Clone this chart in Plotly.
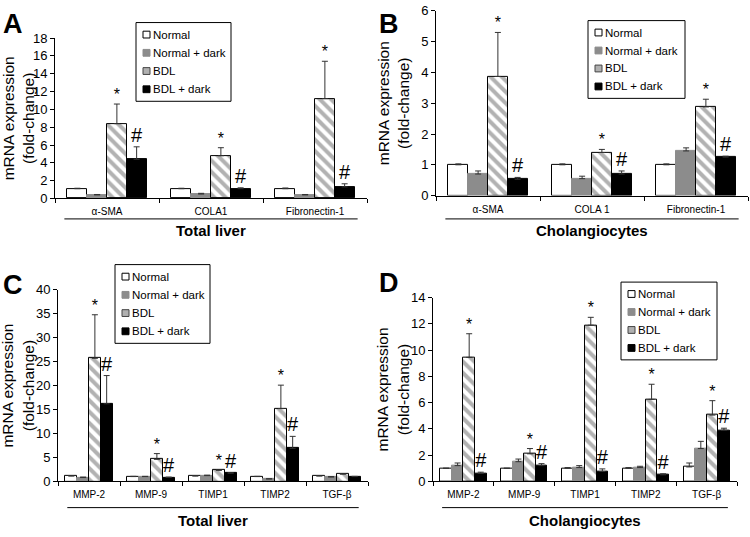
"""Four-panel grouped bar chart: fibrosis / MMP mRNA expression (A-D)."""
import plotly.graph_objects as go

FONT = "Liberation Sans, Arial, sans-serif"
W, H = 750, 537

SERIES = ["Normal", "Normal + dark", "BDL", "BDL + dark"]

# Panel A - total liver, fibrosis markers
A_CATS = ["α-SMA", "COLA1", "Fibronectin-1"]
A_NORMAL = [1.1, 1.1, 1.1]
A_NORMAL_ERR = [0.05, 0.05, 0.08]
A_NDARK = [0.4, 0.5, 0.4]
A_NDARK_ERR = [0.05, 0.08, 0.05]
A_BDL = [8.4, 4.8, 11.2]
A_BDL_ERR = [2.2, 0.9, 4.2]
A_BDARK = [4.4, 1.1, 1.3]
A_BDARK_ERR = [1.4, 0.1, 0.35]

# Panel B - cholangiocytes, fibrosis markers
B_CATS = ["α-SMA", "COLA 1", "Fibronectin-1"]
B_NORMAL = [1.0, 1.0, 1.0]
B_NORMAL_ERR = [0.03, 0.03, 0.03]
B_NDARK = [0.7, 0.55, 1.45]
B_NDARK_ERR = [0.1, 0.08, 0.1]
B_BDL = [3.87, 1.4, 2.88]
B_BDL_ERR = [1.43, 0.1, 0.25]
B_BDARK = [0.53, 0.7, 1.25]
B_BDARK_ERR = [0.06, 0.1, 0.03]

# Panel C - total liver, MMP / TIMP / TGF
C_CATS = ["MMP-2", "MMP-9", "TIMP1", "TIMP2", "TGF-β"]
C_NORMAL = [1.1, 1.0, 1.1, 1.0, 1.1]
C_NORMAL_ERR = [0.1, 0.05, 0.1, 0.05, 0.1]
C_NDARK = [0.8, 1.0, 1.2, 0.5, 0.9]
C_NDARK_ERR = [0.1, 0.05, 0.1, 0.05, 0.1]
C_BDL = [25.7, 4.6, 2.3, 15.2, 1.5]
C_BDL_ERR = [9.1, 1.2, 0.1, 4.9, 0.1]
C_BDARK = [16.2, 0.8, 1.7, 6.9, 1.0]
C_BDARK_ERR = [5.9, 0.1, 0.1, 2.5, 0.05]

# Panel D - cholangiocytes, MMP / TIMP / TGF
D_CATS = ["MMP-2", "MMP-9", "TIMP1", "TIMP2", "TGF-β"]
D_NORMAL = [1.0, 1.0, 1.0, 1.0, 1.1]
D_NORMAL_ERR = [0.0, 0.0, 0.05, 0.05, 0.3]
D_NDARK = [1.2, 1.5, 1.05, 1.05, 2.5]
D_NDARK_ERR = [0.2, 0.2, 0.15, 0.1, 0.55]
D_BDL = [9.45, 2.1, 11.9, 6.25, 5.05]
D_BDL_ERR = [1.8, 0.4, 0.6, 1.15, 1.1]
D_BDARK = [0.6, 1.2, 0.75, 0.5, 3.9]
D_BDARK_ERR = [0.1, 0.15, 0.2, 0.08, 0.15]

# significance markers: * on BDL, # on BDL + dark
A_STAR = [True, True, True]
B_STAR = [True, True, True]
C_STAR = [True, True, True, True, False]
D_STAR = [True, True, True, True, True]

# layout in pixels: plot box (left, right, top, bottom), legend box (left, right, top, bottom)
PANELS = [
    dict(letter="A", cats=A_CATS, vals=[A_NORMAL, A_NDARK, A_BDL, A_BDARK],
         errs=[A_NORMAL_ERR, A_NDARK_ERR, A_BDL_ERR, A_BDARK_ERR], sig=A_STAR,
         group="Total liver", yrange=[0, 18], dtick=2,
         box=(55, 367, 32, 197), legbox=(136, 231, 16, 97),
         letter_px=(1, 0), ytitle_px=18, line_px=218, group_px=230),
    dict(letter="B", cats=B_CATS, vals=[B_NORMAL, B_NDARK, B_BDL, B_BDARK],
         errs=[B_NORMAL_ERR, B_NDARK_ERR, B_BDL_ERR, B_BDARK_ERR], sig=B_STAR,
         group="Cholangiocytes", yrange=[0, 6], dtick=1,
         box=(436, 748, 4, 194), legbox=(588, 685, 14, 94),
         letter_px=(377, 0), ytitle_px=393, line_px=218, group_px=230),
    dict(letter="C", cats=C_CATS, vals=[C_NORMAL, C_NDARK, C_BDL, C_BDARK],
         errs=[C_NORMAL_ERR, C_NDARK_ERR, C_BDL_ERR, C_BDARK_ERR], sig=C_STAR,
         group="Total liver", yrange=[0, 40], dtick=5,
         box=(58, 368, 291, 488), legbox=(115, 210, 265, 346),
         letter_px=(1, 268), ytitle_px=18, line_px=515, group_px=528),
    dict(letter="D", cats=D_CATS, vals=[D_NORMAL, D_NDARK, D_BDL, D_BDARK],
         errs=[D_NORMAL_ERR, D_NDARK_ERR, D_BDL_ERR, D_BDARK_ERR], sig=D_STAR,
         group="Cholangiocytes", yrange=[0, 14], dtick=2,
         box=(433, 737, 299, 488), legbox=(621, 717, 283, 363),
         letter_px=(377, 266), ytitle_px=393, line_px=515, group_px=528),
]

OFFSETS = [-0.285, -0.095, 0.095, 0.285]
BAR_W = 0.19

HATCH = dict(shape="\\", fgcolor="#666666", bgcolor="white", size=8, solidity=0.5,
             fillmode="overlay")
STYLES = [
    dict(color="white", line=dict(color="black", width=1)),
    dict(color="#8c8c8c", line=dict(color="#8c8c8c", width=1)),
    dict(color="white", line=dict(color="black", width=1), pattern=HATCH),
    dict(color="black", line=dict(color="black", width=1)),
]
# small legend swatches
SWATCH = [("white", "black"), ("#8c8c8c", "#8c8c8c"), ("#b0b0b0", "#444444"),
          ("black", "black")]


def px_x(v):
    return v / W


def px_y(v):
    return 1 - v / H


fig = go.Figure()
annotations = []
shapes = []
layout_axes = {}

for p_idx, p in enumerate(PANELS):
    n = p_idx + 1
    xa = "x" if n == 1 else f"x{n}"
    ya = "y" if n == 1 else f"y{n}"
    idx = list(range(len(p["cats"])))
    left, right, top, bottom = p["box"]

    for s_idx, name in enumerate(SERIES):
        xs = [i + OFFSETS[s_idx] for i in idx]
        fig.add_trace(go.Bar(
            x=xs, y=p["vals"][s_idx], width=BAR_W, name=name,
            marker=STYLES[s_idx], xaxis=xa, yaxis=ya, showlegend=False,
            error_y=dict(type="data", array=p["errs"][s_idx], symmetric=False,
                         arrayminus=[0] * len(idx), color="#333", thickness=1,
                         width=3),
        ))

    # significance marks
    star_x, star_y, hash_x, hash_y = [], [], [], []
    for i in idx:
        if p["sig"][i]:
            star_x.append(i + OFFSETS[2])
            star_y.append(p["vals"][2][i] + p["errs"][2][i])
            hash_x.append(i + OFFSETS[3])
            hash_y.append(p["vals"][3][i] + p["errs"][3][i])
    fig.add_trace(go.Scatter(
        x=star_x, y=star_y, mode="text", text=["*"] * len(star_x),
        textposition="top center", textfont=dict(family=FONT, size=16, color="black"),
        xaxis=xa, yaxis=ya, showlegend=False, cliponaxis=False, hoverinfo="skip",
    ))
    fig.add_trace(go.Scatter(
        x=hash_x, y=hash_y, mode="text", text=["#"] * len(hash_x),
        textposition="top center", textfont=dict(family=FONT, size=20, color="black"),
        xaxis=xa, yaxis=ya, showlegend=False, cliponaxis=False, hoverinfo="skip",
    ))

    xkey = "xaxis" if n == 1 else f"xaxis{n}"
    ykey = "yaxis" if n == 1 else f"yaxis{n}"
    layout_axes[xkey] = dict(
        domain=[px_x(left), px_x(right)], anchor=ya, range=[-0.5, len(idx) - 0.5],
        tickmode="array", tickvals=idx, ticktext=p["cats"], ticks="",
        ticklabelstandoff=4,
        tickfont=dict(family=FONT, size=10, color="black"),
        showline=True, linecolor="black", linewidth=1, showgrid=False,
        zeroline=False, fixedrange=True,
        minor=dict(ticks="outside", ticklen=4, tick0=-0.5, dtick=1,
                   tickcolor="black", showgrid=False),
    )
    layout_axes[ykey] = dict(
        domain=[px_y(bottom), px_y(top)], anchor=xa, range=p["yrange"], dtick=p["dtick"],
        ticks="outside", ticklen=4, tickcolor="black",
        tickfont=dict(family=FONT, size=13, color="black"),
        showline=True, linecolor="black", linewidth=1, showgrid=False,
        zeroline=False, fixedrange=True,
    )

    # hand-drawn legend box (compact, like the original figure)
    lx0, lx1, ly0, ly1 = p["legbox"]
    shapes.append(dict(type="rect", xref="paper", yref="paper",
                       x0=px_x(lx0), x1=px_x(lx1), y0=px_y(ly1), y1=px_y(ly0),
                       line=dict(color="black", width=1), fillcolor="white", layer="above"))
    row_h = (ly1 - ly0 - 6) / 4
    for s_idx, name in enumerate(SERIES):
        cy = ly0 + 3 + row_h * (s_idx + 0.5)
        fill, edge = SWATCH[s_idx]
        shapes.append(dict(type="rect", xref="paper", yref="paper",
                           x0=px_x(lx0 + 7), x1=px_x(lx0 + 14),
                           y0=px_y(cy + 3.5), y1=px_y(cy - 3.5),
                           line=dict(color=edge, width=1), fillcolor=fill, layer="above"))
        annotations.append(dict(
            x=px_x(lx0 + 15), y=px_y(cy), xref="paper", yref="paper", text=name,
            showarrow=False, xanchor="left", yanchor="middle",
            font=dict(family=FONT, size=11.5, color="black"),
        ))

    # panel letter
    annotations.append(dict(
        x=px_x(p["letter_px"][0]), y=px_y(p["letter_px"][1]), xref="paper", yref="paper",
        text=f"<b>{p['letter']}</b>", showarrow=False, xanchor="left", yanchor="top",
        font=dict(family=FONT, size=27, color="black"),
    ))
    # y title
    annotations.append(dict(
        x=px_x(p["ytitle_px"]), y=px_y((top + bottom) / 2), xref="paper", yref="paper",
        text="mRNA expression<br>(fold-change)", textangle=-90, showarrow=False,
        xanchor="center", yanchor="middle",
        font=dict(family=FONT, size=15.5, color="black"),
    ))
    # group label and bracket line
    shapes.append(dict(
        type="line", xref=f"{xa} domain", yref="paper", x0=0.03, x1=0.97,
        y0=px_y(p["line_px"]), y1=px_y(p["line_px"]), line=dict(color="black", width=1),
    ))
    annotations.append(dict(
        x=0.5, y=px_y(p["group_px"]), xref=f"{xa} domain", yref="paper",
        text=f"<b>{p['group']}</b>", showarrow=False, xanchor="center", yanchor="middle",
        font=dict(family=FONT, size=15, color="black"),
    ))

fig.update_layout(
    width=W, height=H,
    margin=dict(l=0, r=0, t=0, b=0),
    paper_bgcolor="white", plot_bgcolor="white",
    barmode="overlay", bargap=0, showlegend=False,
    annotations=annotations, shapes=shapes,
    **layout_axes,
)

fig.write_html("out.html", config={"displayModeBar": False},
               post_script="document.body.style.margin='0';")
